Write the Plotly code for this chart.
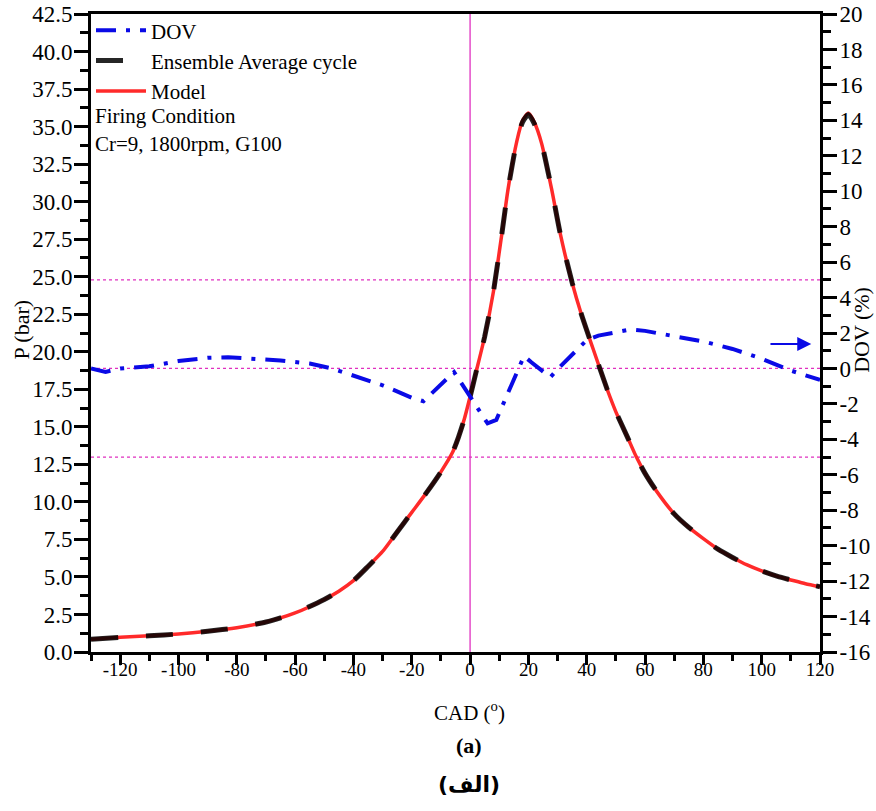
import plotly.graph_objects as go

# ---- data ----
cad_p = [-130, -120, -110, -100, -90, -80, -70, -60, -50, -45, -40, -35, -30, -25, -20, -15, -10,
         -6, -4, -2, 0, 2, 5, 8, 11, 13, 16, 18, 20, 22, 24.5, 28, 31, 35, 38, 42, 47, 50, 54, 57,
         60, 64, 70, 75, 80, 85, 90, 95, 100, 106, 110, 115, 120]
p_ensemble = [0.85, 0.98, 1.08, 1.2, 1.38, 1.62, 2.0, 2.6, 3.5, 4.05, 4.75, 5.7, 6.7, 8.0, 9.3, 10.6, 12.0,
              13.3, 14.3, 15.5, 17.0, 18.6, 21.0, 24.0, 28.0, 30.8, 34.0, 35.3, 35.8, 35.2, 33.9, 30.8, 27.8,
              24.6, 22.6, 20.3, 17.5, 16.0, 14.3, 13.0, 11.9, 10.7, 9.2, 8.3, 7.55, 6.85, 6.3, 5.8, 5.4,
              5.0, 4.8, 4.55, 4.35]
p_model = [0.85, 0.98, 1.08, 1.2, 1.38, 1.62, 2.0, 2.6, 3.5, 4.05, 4.75, 5.7, 6.7, 8.0, 9.3, 10.6, 12.0,
           13.3, 14.3, 15.5, 17.0, 18.6, 21.0, 24.0, 28.0, 30.8, 34.0, 35.4, 35.9, 35.3, 33.9, 30.8, 27.8,
           24.6, 22.6, 20.3, 17.5, 16.0, 14.3, 13.0, 11.9, 10.7, 9.2, 8.3, 7.55, 6.85, 6.3, 5.8, 5.4,
           5.0, 4.8, 4.55, 4.35]

cad_dov = [-130, -125, -120, -110, -100, -90, -83, -75, -65, -55, -48, -43, -30, -20, -16, -5.5, 0,
           6, 9, 18.5, 21, 27.5, 30.5, 40, 44, 55, 60, 70, 80, 90, 100, 110, 120]
dov = [0.0, -0.2, 0.0, 0.12, 0.42, 0.6, 0.63, 0.55, 0.45, 0.28, 0.02, -0.24, -0.95, -1.65, -1.85, -0.2, -1.6,
       -3.1, -2.9, 0.7, 0.35, -0.5, 0.04, 1.6, 1.85, 2.2, 2.12, 1.8, 1.52, 1.1, 0.55, -0.12, -0.65]

x_ticks = list(range(-120, 121, 20))
x_ticktext = [str(v) for v in x_ticks]
p_ticks = [i * 2.5 for i in range(18)]
p_ticktext = ["%.1f" % v for v in p_ticks]
dov_ticks = list(range(-16, 21, 2))
dov_ticktext = [str(v) for v in dov_ticks]
x_range = [-130, 120]
p_range = [0, 42.5]
dov_range = [-16, 20]
ref_dov_lines = [-5, 0, 5]

SERIF = "Liberation Serif, Times New Roman, serif"
GRID = "#e030c0"

fig = go.Figure()

fig.add_trace(go.Scatter(
    x=cad_dov, y=dov, yaxis="y2", mode="lines", name="DOV",
    line=dict(color="#0a0ae6", width=4, dash="20px,10px,4px,10px"), legendrank=1))
fig.add_trace(go.Scatter(
    x=cad_p, y=p_model, mode="lines", name="Model",
    line=dict(color="#ff2a2a", width=3.5, shape="spline", smoothing=0.6), legendrank=3))
fig.add_trace(go.Scatter(
    x=cad_p, y=p_ensemble, mode="lines", name="Ensemble Average cycle",
    line=dict(color="black", width=5, dash="27px,28px", shape="spline", smoothing=0.6),
    opacity=0.85, legendrank=2))

shapes = []
for v in ref_dov_lines:
    shapes.append(dict(type="line", xref="paper", x0=0, x1=1, yref="y2", y0=v, y1=v,
                       line=dict(color=GRID, width=1.2, dash="dot"), layer="below"))
shapes.append(dict(type="line", xref="x", x0=0, x1=0, yref="paper", y0=0, y1=1,
                   line=dict(color=GRID, width=1.3), layer="below"))

annotations = [
    dict(x=117, y=1.38, xref="x", yref="y2", ax=102.5, ay=1.38, axref="x", ayref="y2",
         showarrow=True, arrowhead=2, arrowsize=1.4, arrowwidth=2, arrowcolor="#0a0ae6", text=""),
    dict(x=0.0, y=0.84, xref="paper", yref="paper", xanchor="left", yanchor="middle", xshift=2,
         text="Firing Condition", showarrow=False, font=dict(family=SERIF, size=21, color="black")),
    dict(x=0.0, y=0.797, xref="paper", yref="paper", xanchor="left", yanchor="middle", xshift=2,
         text="Cr=9, 1800rpm, G100", showarrow=False, font=dict(family=SERIF, size=21, color="black")),
    dict(x=0.519, y=-0.094, xref="paper", yref="paper", xanchor="center", yanchor="middle",
         text="CAD (<sup>o</sup>)", showarrow=False, font=dict(family=SERIF, size=21, color="black")),
    dict(x=0.519, y=-0.146, xref="paper", yref="paper", xanchor="center", yanchor="middle",
         text="<b>(a)</b>", showarrow=False, font=dict(family=SERIF, size=22, color="black")),
    dict(x=0.519, y=-0.208, xref="paper", yref="paper", xanchor="center", yanchor="middle",
         text="<b>(الف)</b>", showarrow=False, font=dict(family="DejaVu Sans", size=22, color="black")),
    dict(x=-0.095, y=0.505, xref="paper", yref="paper", xanchor="center", yanchor="middle",
         text="P (bar)", textangle=-90, showarrow=False, font=dict(family=SERIF, size=22, color="black")),
    dict(x=1.0576, y=0.505, xref="paper", yref="paper", xanchor="center", yanchor="middle",
         text="DOV (%)", textangle=-90, showarrow=False, font=dict(family=SERIF, size=22, color="black")),
]

fig.update_layout(
    width=876, height=811,
    margin=dict(l=91, r=56, t=14, b=159, autoexpand=False),
    paper_bgcolor="white", plot_bgcolor="white",
    font=dict(family=SERIF, size=21, color="black"),
    showlegend=True,
    legend=dict(x=0.0, y=1.006, xanchor="left", yanchor="top", bgcolor="rgba(0,0,0,0)",
                font=dict(family=SERIF, size=21), tracegroupgap=0, itemwidth=50),
    shapes=shapes, annotations=annotations,
    xaxis=dict(range=x_range, tickvals=x_ticks, ticktext=x_ticktext, showgrid=False, zeroline=False,
               showline=True, linecolor="black", linewidth=3, mirror=True, automargin=False,
               ticks="outside", ticklen=10, tickwidth=3, tickcolor="black", ticklabelstandoff=-12,
               tickfont=dict(family=SERIF, size=19),
               minor=dict(dtick=10, tick0=-130, ticks="outside", ticklen=6, tickwidth=3,
                          tickcolor="black", showgrid=False)),
    yaxis=dict(range=p_range, tickvals=p_ticks, ticktext=p_ticktext, showgrid=False, zeroline=False,
               showline=True, linecolor="black", linewidth=3, automargin=False,
               ticks="outside", ticklen=14, tickwidth=3, tickcolor="black", ticklabelstandoff=-3,
               tickfont=dict(family=SERIF, size=23),
               minor=dict(dtick=1.25, tick0=0, ticks="outside", ticklen=8, tickwidth=3,
                          tickcolor="black", showgrid=False)),
    yaxis2=dict(range=dov_range, tickvals=dov_ticks, ticktext=dov_ticktext, overlaying="y", side="right",
                showgrid=False, zeroline=False, automargin=False,
                showline=True, linecolor="black", linewidth=3,
                ticks="outside", ticklen=14, tickwidth=3, tickcolor="black", ticklabelstandoff=-2,
                tickfont=dict(family=SERIF, size=23),
                minor=dict(dtick=1, tick0=0, ticks="outside", ticklen=8, tickwidth=3,
                           tickcolor="black", showgrid=False)),
)

fig.write_html("out.html", config={"displayModeBar": False},
               post_script="document.body.style.margin='0';")
